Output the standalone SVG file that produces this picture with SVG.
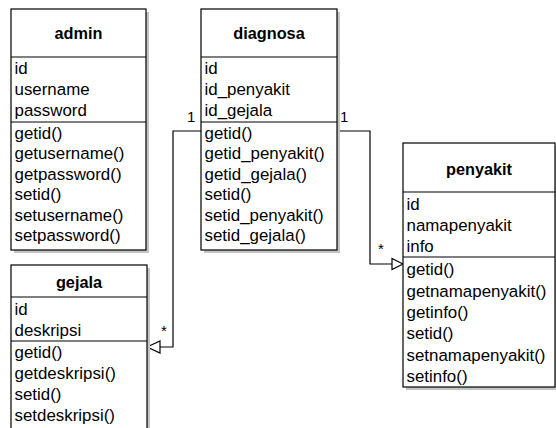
<svg xmlns="http://www.w3.org/2000/svg" width="556" height="428" viewBox="0 0 556 428">
  <style>
    .box { fill: #ffffff; stroke: #000000; stroke-width: 1.2; }
    .shadow { fill: #c4c4c4; }
    .sep { stroke: #000000; stroke-width: 1.2; }
    .title { font-family: "Liberation Sans", Arial, sans-serif; font-size: 16.3px; font-weight: bold; fill: #000; text-anchor: middle; }
    .row { font-family: "Liberation Sans", Arial, sans-serif; font-size: 16.9px; fill: #000; }
    .lbl { font-family: "Liberation Sans", Arial, sans-serif; font-size: 15px; fill: #000; }
    .edge { fill: none; stroke: #000000; stroke-width: 1.2; }
    .head { fill: #ffffff; stroke: #000000; stroke-width: 1.2; }
  </style>
  <rect width="556" height="428" fill="#ffffff"/>

  <!-- connectors -->
  <g id="connectors">
    <polyline class="edge" points="201,131 173,131 173,347 160,347"/>
    <polygon class="head" points="147,347 160,341 160,353"/>
    <polyline class="edge" points="337,131 370,131 370,264 392,264"/>
    <polygon class="head" points="403,264 392,258.5 392,269.5"/>
    <text class="lbl" x="187" y="122">1</text>
    <text class="lbl" x="340" y="122">1</text>
    <text class="lbl" x="161" y="336">*</text>
    <text class="lbl" x="378" y="254">*</text>
  </g>

  <!-- admin -->
  <g id="admin">
    <rect class="shadow" x="14" y="12" width="135" height="241"/>
    <rect class="box" x="11" y="9" width="135" height="241"/>
    <line class="sep" x1="11" y1="57" x2="146" y2="57"/>
    <line class="sep" x1="11" y1="122" x2="146" y2="122"/>
    <text class="title" x="78.5" y="39">admin</text>
    <text class="row" x="14.5" y="74">id</text>
    <text class="row" x="14.5" y="95">username</text>
    <text class="row" x="14.5" y="116">password</text>
    <text class="row" x="14.5" y="138.5">getid()</text>
    <text class="row" x="14.5" y="159">getusername()</text>
    <text class="row" x="14.5" y="179.5">getpassword()</text>
    <text class="row" x="14.5" y="200">setid()</text>
    <text class="row" x="14.5" y="220.5">setusername()</text>
    <text class="row" x="14.5" y="241">setpassword()</text>
  </g>

  <!-- diagnosa -->
  <g id="diagnosa">
    <rect class="shadow" x="204" y="12" width="136" height="241"/>
    <rect class="box" x="201" y="9" width="136" height="241"/>
    <line class="sep" x1="201" y1="57" x2="337" y2="57"/>
    <line class="sep" x1="201" y1="122" x2="337" y2="122"/>
    <text class="title" x="269" y="39">diagnosa</text>
    <text class="row" x="204.5" y="74">id</text>
    <text class="row" x="204.5" y="95">id_penyakit</text>
    <text class="row" x="204.5" y="116">id_gejala</text>
    <text class="row" x="204.5" y="138.5">getid()</text>
    <text class="row" x="204.5" y="159">getid_penyakit()</text>
    <text class="row" x="204.5" y="179.5">getid_gejala()</text>
    <text class="row" x="204.5" y="200">setid()</text>
    <text class="row" x="204.5" y="220.5">setid_penyakit()</text>
    <text class="row" x="204.5" y="241">setid_gejala()</text>
  </g>

  <!-- gejala -->
  <g id="gejala">
    <rect class="shadow" x="14" y="268" width="136" height="170"/>
    <rect class="box" x="11" y="265" width="136" height="170"/>
    <line class="sep" x1="11" y1="297" x2="147" y2="297"/>
    <line class="sep" x1="11" y1="341" x2="147" y2="341"/>
    <text class="title" x="79" y="288">gejala</text>
    <text class="row" x="14.5" y="315">id</text>
    <text class="row" x="14.5" y="336">deskripsi</text>
    <text class="row" x="14.5" y="358">getid()</text>
    <text class="row" x="14.5" y="379">getdeskripsi()</text>
    <text class="row" x="14.5" y="400">setid()</text>
    <text class="row" x="14.5" y="421">setdeskripsi()</text>
  </g>

  <!-- penyakit -->
  <g id="penyakit">
    <rect class="shadow" x="406" y="146" width="152" height="244"/>
    <rect class="box" x="403" y="143" width="152" height="244"/>
    <line class="sep" x1="403" y1="192" x2="555" y2="192"/>
    <line class="sep" x1="403" y1="257" x2="555" y2="257"/>
    <text class="title" x="479" y="175">penyakit</text>
    <text class="row" x="406.5" y="209.5">id</text>
    <text class="row" x="406.5" y="231">namapenyakit</text>
    <text class="row" x="406.5" y="252">info</text>
    <text class="row" x="406.5" y="275">getid()</text>
    <text class="row" x="406.5" y="296.5">getnamapenyakit()</text>
    <text class="row" x="406.5" y="317.5">getinfo()</text>
    <text class="row" x="406.5" y="339">setid()</text>
    <text class="row" x="406.5" y="360.5">setnamapenyakit()</text>
    <text class="row" x="406.5" y="381.5">setinfo()</text>
  </g>
</svg>
